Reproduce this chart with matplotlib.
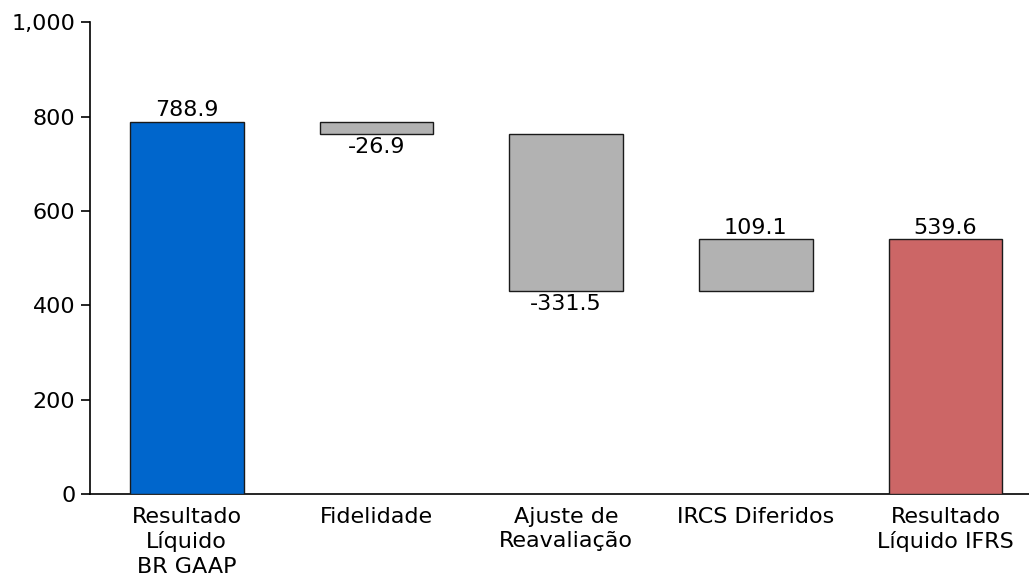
import numpy as np
import matplotlib
matplotlib.use("Agg")
import matplotlib.pyplot as plt

# waterfall from BR GAAP net income to IFRS net income
categories = ["Resultado\nLíquido\nBR GAAP", "Fidelidade", "Ajuste de\nReavaliação",
              "IRCS Diferidos", "Resultado\nLíquido IFRS"]
start_value = 788.9
adjustments = [-26.9, -331.5, 109.1]
end_value = 539.6
y_ticks = [0, 200, 400, 600, 800, 1000]

blue = "#0066CC"
grey = "#B2B2B2"
red = "#CC6666"

plt.rcParams["font.family"] = "DejaVu Sans"
plt.rcParams["font.size"] = 16

fig = plt.figure(figsize=(10.29, 5.84), dpi=100)
ax = fig.add_axes([0.0875, 0.154, 0.9125, 0.808])

x = np.arange(len(categories))
width = 0.6

# running totals for the floating bars
bottoms = [0]
heights = [start_value]
level = start_value
for adj in adjustments:
    bottoms.append(level + min(adj, 0))
    heights.append(abs(adj))
    level += adj
bottoms.append(0)
heights.append(end_value)
colors = [blue] + [grey] * len(adjustments) + [red]
values = [start_value] + adjustments + [end_value]

ax.bar(x, heights, width, bottom=bottoms, color=colors,
       edgecolor="#1a1a1a", linewidth=1.0, zorder=3)

for xi, b, h, v in zip(x, bottoms, heights, values):
    if v >= 0:
        ax.annotate(f"{v:.1f}", (xi, b + h), xytext=(0, 1), textcoords="offset points",
                    ha="center", va="bottom", fontsize=16)
    else:
        ax.annotate(f"{v:.1f}", (xi, b), xytext=(0, -2), textcoords="offset points",
                    ha="center", va="top", fontsize=16)

ax.set_xlim(-0.51, 4.44)
ax.set_ylim(0, 1000)
ax.set_yticks(y_ticks)
ax.set_yticklabels([f"{t:,}" for t in y_ticks])
ax.set_xticks(x)
ax.set_xticklabels(categories, linespacing=1.28)

ax.spines["top"].set_visible(False)
ax.spines["right"].set_visible(False)
ax.spines["left"].set_linewidth(1.2)
ax.spines["bottom"].set_linewidth(1.2)
ax.tick_params(axis="y", direction="out", length=6.5, width=1.2, pad=4)
ax.tick_params(axis="x", length=0, pad=9)

fig.savefig("out.png", dpi=100)
